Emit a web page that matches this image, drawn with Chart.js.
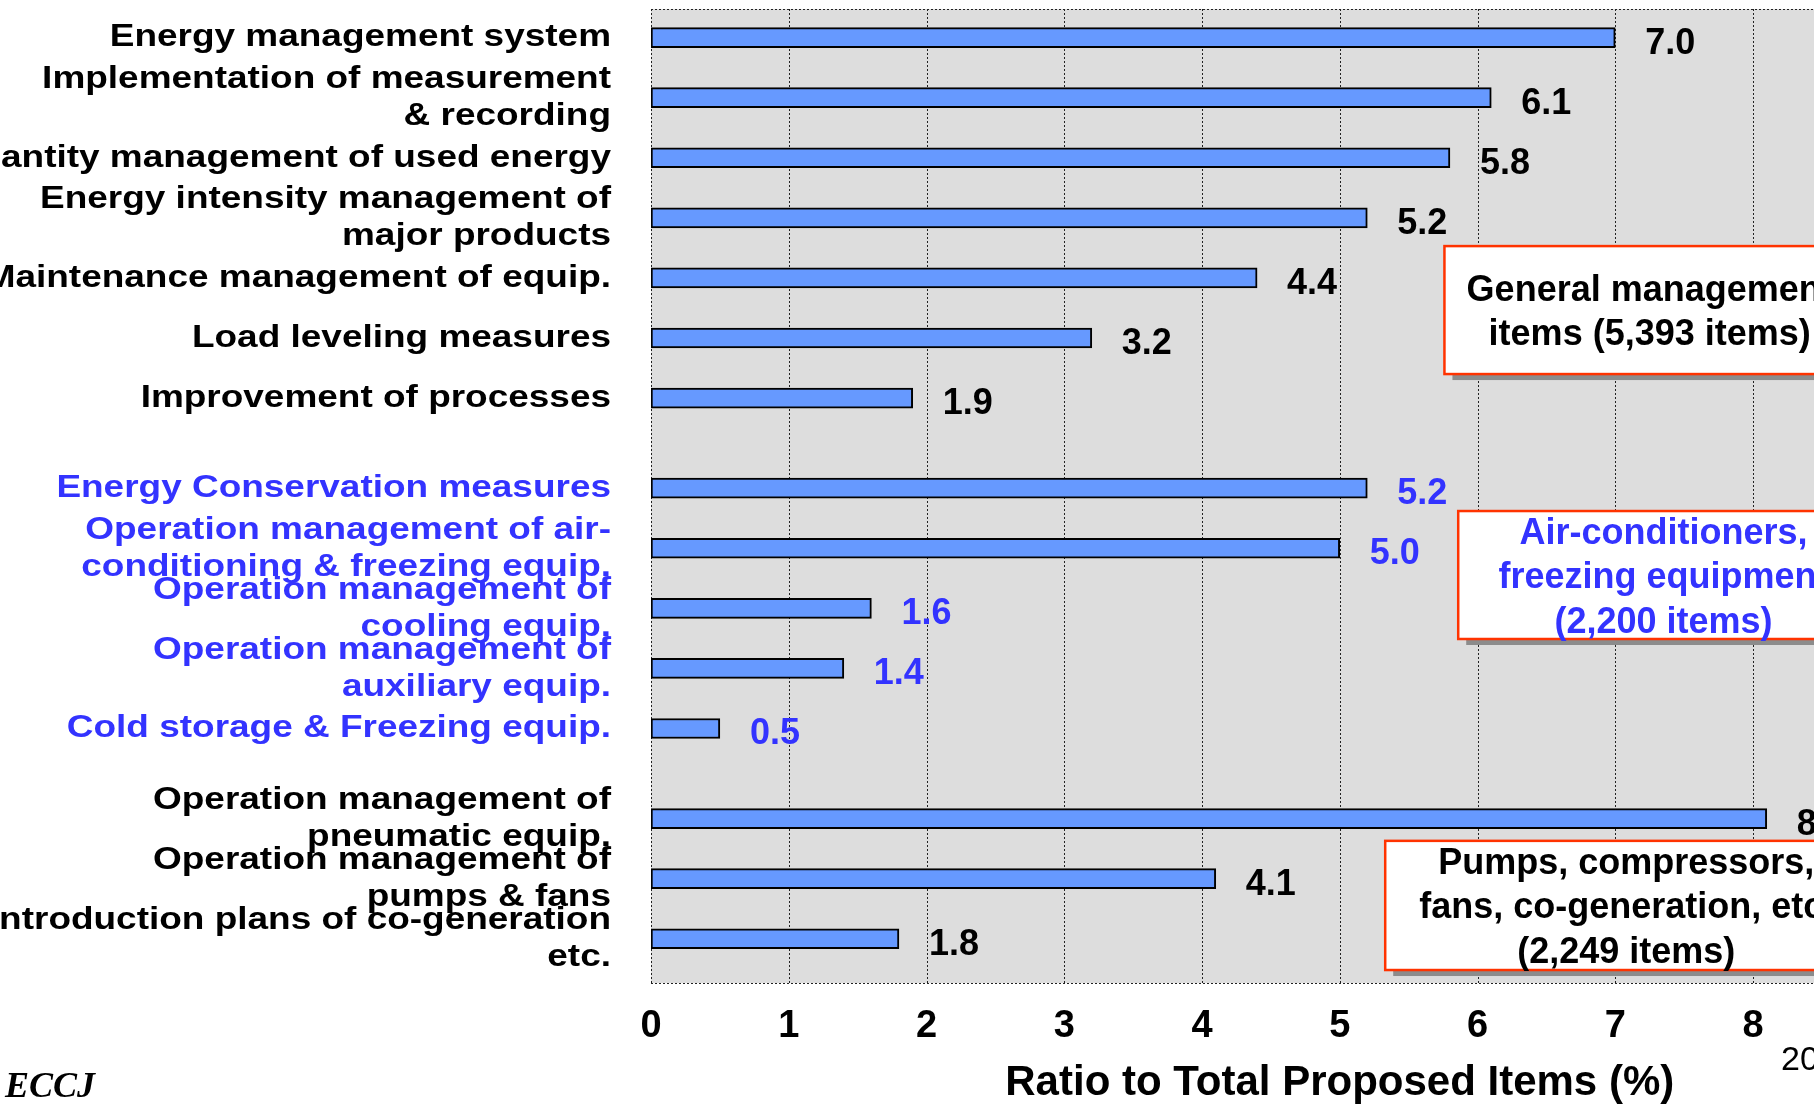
<!DOCTYPE html>
<html>
<head>
<meta charset="utf-8">
<script src="https://cdn.jsdelivr.net/npm/chart.js@4.4.1/dist/chart.umd.min.js"></script>
<style>
html, body { margin: 0; padding: 0; background: #ffffff; overflow: hidden; }
canvas { display: block; }
</style>
</head>
<body>
<canvas id="c" width="2070" height="1105"></canvas>
<script>
// ---------------- DATA ----------------
const generalItems = [
  'Energy management system',
  ['Implementation of measurement', '& recording'],
  'Quantity management of used energy',
  ['Energy intensity management of', 'major products'],
  'Maintenance management of equip.',
  'Load leveling measures',
  'Improvement of processes'
];
const generalValues = [7.0, 6.1, 5.8, 5.2, 4.4, 3.2, 1.9];

const coolingItems = [
  'Energy Conservation measures',
  ['Operation management of air-', 'conditioning & freezing equip.'],
  ['Operation management of', 'cooling equip.'],
  ['Operation management of', 'auxiliary equip.'],
  'Cold storage & Freezing equip.'
];
const coolingValues = [5.2, 5.0, 1.6, 1.4, 0.5];

const machineryItems = [
  ['Operation management of', 'pneumatic equip.'],
  ['Operation management of', 'pumps & fans'],
  ['Introduction plans of co-generation', 'etc.']
];
const machineryValues = [8.1, 4.1, 1.8];

const groupTitles = [
  ['General management', 'items (5,393 items)'],
  ['Air-conditioners,', 'freezing equipment', '(2,200 items)'],
  ['Pumps, compressors,', 'fans, co-generation, etc.', '(2,249 items)']
];

const xAxisMax = 10;
const xAxisTitle = 'Ratio to Total Proposed Items (%)';
const sourceText = 'ECCJ';
const pageNumber = '20';

// ---------------- STYLE / LAYOUT ----------------
const BLACK = '#000000';
const BLUE = '#3333FF';
const groupColors = [BLACK, BLUE, BLACK];
const SANS = '"Liberation Sans", Arial, sans-serif';
const LABEL_STRETCH = 1.155;     // category labels are horizontally widened in the original
const ROW_GAP = 1;               // empty rows between items of a group
const GROUP_GAP = 2;             // empty rows between groups

// callout boxes placed in scale units (x value, row index)
const boxLayout = [
  { x0: 5.76, x1: 8.74, y0: 6.94, y1: 11.20, tx: 7.25 },
  { x0: 5.86, x1: 8.94, y0: 15.76, y1: 20.02, tx: 7.35 },
  { x0: 5.33, x1: 8.92, y0: 26.74, y1: 31.04, tx: 7.08 }
];

// ---------------- BUILD ----------------
const groups = [
  { items: generalItems, values: generalValues },
  { items: coolingItems, values: coolingValues },
  { items: machineryItems, values: machineryValues }
];
const labels = [];
const values = [];
const groupOf = [];
function pushSpacer(n) { for (let k = 0; k < n; k++) { labels.push(''); values.push(null); groupOf.push(-1); } }
groups.forEach((g, gi) => {
  if (gi > 0) pushSpacer(GROUP_GAP);
  g.items.forEach((it, i) => {
    if (i > 0) pushSpacer(ROW_GAP);
    labels.push(it); values.push(g.values[i]); groupOf.push(gi);
  });
});

const colorFor = i => groupOf[i] >= 0 ? groupColors[groupOf[i]] : BLACK;

const framePlugin = {
  id: 'frame',
  beforeDraw(chart) {
    const { ctx, chartArea } = chart;
    const xs = chart.scales.x;
    const top = chartArea.top - 13.6;
    const bottom = chartArea.bottom + 29.2;
    ctx.save();
    ctx.fillStyle = '#DDDDDD';
    ctx.fillRect(chartArea.left, top, chartArea.right - chartArea.left, bottom - top);
    ctx.strokeStyle = '#222222';
    ctx.lineWidth = 1;
    ctx.setLineDash([2, 2]);
    xs.ticks.forEach(t => {
      const x = Math.round(xs.getPixelForValue(t.value)) + 0.5;
      ctx.beginPath(); ctx.moveTo(x, top); ctx.lineTo(x, bottom); ctx.stroke();
    });
    ctx.beginPath();
    ctx.moveTo(chartArea.left, Math.round(top) + 0.5); ctx.lineTo(chartArea.right, Math.round(top) + 0.5);
    ctx.moveTo(chartArea.left, Math.round(bottom) + 0.5); ctx.lineTo(chartArea.right, Math.round(bottom) + 0.5);
    ctx.stroke();
    ctx.restore();
  }
};

const valueLabelPlugin = {
  id: 'valueLabels',
  afterDatasetsDraw(chart) {
    const { ctx } = chart;
    const meta = chart.getDatasetMeta(0);
    ctx.save();
    ctx.font = 'bold 36px ' + SANS;
    ctx.textAlign = 'left';
    ctx.textBaseline = 'middle';
    meta.data.forEach((el, i) => {
      const v = values[i];
      if (v === null || v === undefined) return;
      ctx.fillStyle = colorFor(i);
      ctx.fillText(v.toFixed(1), el.x + 30, el.y + 6);
    });
    ctx.restore();
  }
};

const calloutPlugin = {
  id: 'callouts',
  afterDatasetsDraw(chart) {
    const { ctx } = chart;
    const xs = chart.scales.x, ys = chart.scales.y;
    ctx.save();
    boxLayout.forEach((b, gi) => {
      const x0 = xs.getPixelForValue(b.x0), x1 = xs.getPixelForValue(b.x1);
      const y0 = ys.getPixelForValue(b.y0), y1 = ys.getPixelForValue(b.y1);
      ctx.fillStyle = '#8C8C8C';
      ctx.fillRect(x0 + 8, y0 + 6, x1 - x0, y1 - y0);
      ctx.fillStyle = '#FFFFFF';
      ctx.fillRect(x0, y0, x1 - x0, y1 - y0);
      ctx.strokeStyle = '#FF3300';
      ctx.lineWidth = 2.5;
      ctx.strokeRect(x0, y0, x1 - x0, y1 - y0);
      const lines = groupTitles[gi];
      const lh = 44.5;
      const cy = (y0 + y1) / 2;
      const first = cy - (lines.length - 1) * lh / 2 + 13;
      ctx.font = 'bold 36px ' + SANS;
      ctx.textAlign = 'center';
      ctx.textBaseline = 'alphabetic';
      ctx.fillStyle = groupColors[gi];
      const tx = xs.getPixelForValue(b.tx);
      lines.forEach((ln, k) => ctx.fillText(ln, tx, first + k * lh));
    });
    ctx.restore();
  },
  afterDraw(chart) {
    const { ctx } = chart;
    ctx.save();
    ctx.fillStyle = BLACK;
    ctx.textAlign = 'left';
    ctx.textBaseline = 'alphabetic';
    ctx.font = 'italic bold 36px "Liberation Serif", "Times New Roman", serif';
    ctx.fillText(sourceText, 5, 1097);
    ctx.font = '34px ' + SANS;
    ctx.fillText(pageNumber, 1781, 1070);
    ctx.restore();
  }
};

function stretchLabels(s) {
  if (s._stretched) return;
  const orig = s.drawLabels;
  s.drawLabels = function (area) {
    const c = this.ctx;
    const ax = this.right - this.options.ticks.padding;
    c.save();
    c.translate(ax, 0);
    c.scale(LABEL_STRETCH, 1);
    c.translate(-ax, 0);
    orig.call(this, area);
    c.restore();
  };
  s._stretched = true;
}

new Chart(document.getElementById('c'), {
  type: 'bar',
  data: {
    labels: labels,
    datasets: [{
      data: values,
      backgroundColor: '#6699FF',
      borderColor: '#000000',
      borderWidth: 2,
      borderSkipped: false,
      barThickness: 20
    }]
  },
  options: {
    indexAxis: 'y',
    responsive: false,
    devicePixelRatio: 1,
    animation: false,
    layout: { padding: { left: 0, right: 41.5, top: 22.6, bottom: 0 } },
    plugins: { legend: { display: false }, tooltip: { enabled: false } },
    scales: {
      x: {
        type: 'linear',
        position: 'bottom',
        min: 0,
        max: xAxisMax,
        grid: { display: false, drawTicks: false },
        border: { display: false },
        ticks: {
          stepSize: 1, autoSkip: false, maxRotation: 0, padding: 50.2, color: BLACK,
          font: { family: SANS, weight: 'bold', size: 38 }
        },
        title: {
          display: true, text: xAxisTitle, color: BLACK,
          font: { family: SANS, weight: 'bold', size: 42 },
          padding: { top: 0, bottom: -4 }
        },
        afterFit(s) { s.height = 151.2; s.paddingLeft = 0; s.paddingRight = 0; }
      },
      y: {
        grid: { display: false, drawTicks: false },
        border: { display: false },
        ticks: {
          autoSkip: false, padding: 40,
          color: c => colorFor(c.index),
          font: { family: SANS, weight: 'bold', size: 32, lineHeight: '37px' }
        },
        afterFit(s) { s.width = 651; s.paddingTop = 0; s.paddingBottom = 0; stretchLabels(s); }
      }
    }
  },
  plugins: [framePlugin, valueLabelPlugin, calloutPlugin]
});
</script>
</body>
</html>
